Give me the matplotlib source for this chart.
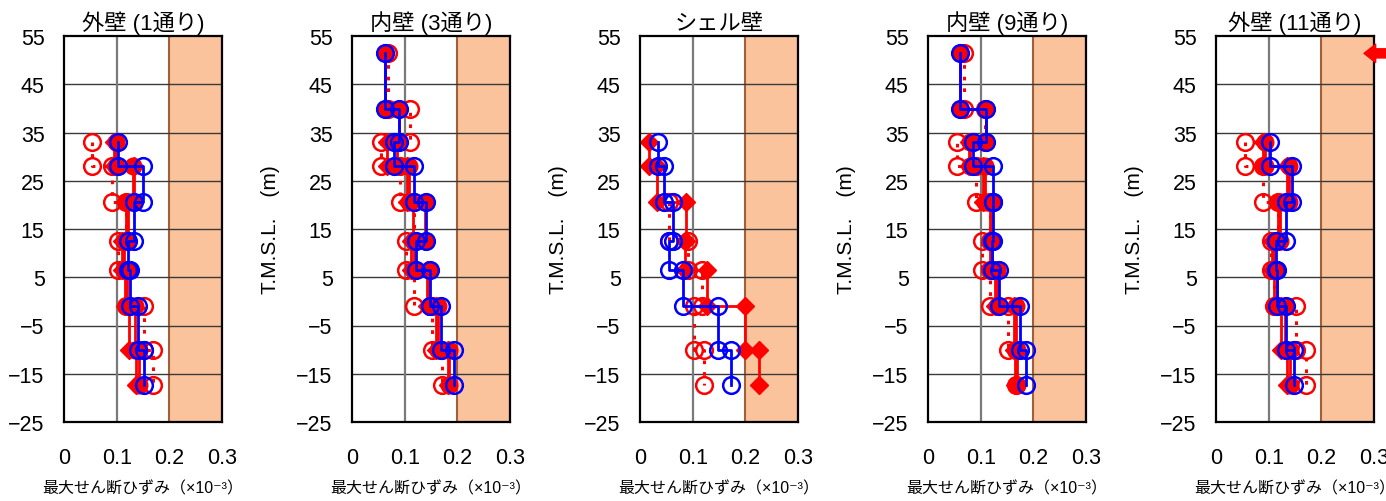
# -*- coding: utf-8 -*-
"""
最大せん断ひずみ分布図（各通り壁）
"""
import matplotlib
matplotlib.use('Agg')
import matplotlib.pyplot as plt

plt.rcParams['font.family'] = ['Liberation Sans', 'Noto Sans CJK JP', 'DejaVu Sans']

# 床レベル T.M.S.L. (m)
heights = [51.4, 39.8, 33.0, 28.0, 20.5, 12.5, 6.5, -1.0, -10.0, -17.3]

titles = ['外壁 (1通り)', '内壁 (3通り)', 'シェル壁', '内壁 (9通り)', '外壁 (11通り)']

# 各層の最大せん断ひずみ (×10^-3)  A:赤白丸点線 B:赤菱形 C:赤丸 D:青白丸
p1_a = [0.054, 0.092, 0.117, 0.102, 0.118, 0.151, 0.169]
p1_b = [0.094, 0.133, 0.118, 0.110, 0.115, 0.124, 0.137]
p1_c = [0.099, 0.131, 0.121, 0.114, 0.120, 0.134, 0.143]
p1_d = [0.102, 0.150, 0.133, 0.121, 0.126, 0.141, 0.152]

p2_a = [0.068, 0.110, 0.056, 0.092, 0.117, 0.102, 0.118, 0.151, 0.171]
p2_b = [0.066, 0.105, 0.115, 0.112, 0.143, 0.160, 0.182]
p2_c = [0.063, 0.090, 0.085, 0.108, 0.138, 0.118, 0.146, 0.164, 0.185]
p2_d = [0.063, 0.090, 0.080, 0.118, 0.140, 0.122, 0.148, 0.169, 0.194]

p3_a = [0.055, 0.091, 0.117, 0.103, 0.121]
p3_b = [0.018, 0.032, 0.088, 0.085, 0.128, 0.200, 0.225]
p3_c = []
p3_d = [0.035, 0.045, 0.063, 0.056, 0.082, 0.149, 0.172]

p4_a = [0.069, 0.108, 0.056, 0.092, 0.117, 0.102, 0.118, 0.151, 0.168]
p4_b = [0.078, 0.105, 0.118, 0.118, 0.128, 0.163, 0.165]
p4_c = [0.061, 0.110, 0.080, 0.108, 0.122, 0.121, 0.131, 0.167, 0.169]
p4_d = [0.061, 0.111, 0.086, 0.124, 0.124, 0.122, 0.134, 0.175, 0.186]

p5_a = [0.055, 0.090, 0.117, 0.104, 0.110, 0.151, 0.170]
p5_b = [0.090, 0.135, 0.118, 0.106, 0.110, 0.124, 0.135]
p5_c = [0.093, 0.138, 0.121, 0.110, 0.116, 0.131, 0.141]
p5_d = [0.102, 0.145, 0.132, 0.114, 0.116, 0.133, 0.148]

# 11通り 頂部：範囲外の値を示す矢印 (先端, 尾)
p5_arrow_x = [0.281, 0.345]
p5_arrow_h = 51.4

panels = [
    (p1_a, p1_b, p1_c, p1_d),
    (p2_a, p2_b, p2_c, p2_d),
    (p3_a, p3_b, p3_c, p3_d),
    (p4_a, p4_b, p4_c, p4_d),
    (p5_a, p5_b, p5_c, p5_d),
]

RED = '#ff0000'
BLUE = '#0000ff'


def step_xy(vals):
    """下から詰めた層の値を階段状の座標にする"""
    start = len(heights) - 1 - len(vals)
    xs, ys = [], []
    for i, v in enumerate(vals):
        xs += [v, v]
        ys += [heights[start + i], heights[start + i + 1]]
    return xs, ys


fig = plt.figure(figsize=(13.86, 5.02), dpi=100)
W, H = 1386.0, 502.0
lefts = [64, 352, 640, 928, 1216]

for k, (a, b, c, d) in enumerate(panels):
    ax = fig.add_axes([lefts[k] / W, (H - 423) / H, 158 / W, 386 / H])

    ax.axvspan(0.2, 0.3, facecolor='#fbc39b', edgecolor='#a0603a', lw=1.5, zorder=0)
    for yy in range(-15, 55, 10):
        ax.axhline(yy, color='#3a3a3a', lw=1.0, zorder=1)
    ax.axvline(0.1, color='#7a7a7a', lw=1.6, zorder=1)

    if a:
        xs, ys = step_xy(a)
        ax.plot(xs, ys, color=RED, lw=2.2, ls=(0, (1.2, 2.6)), marker='o', ms=12,
                mfc='none', mec=RED, mew=1.8, zorder=3)
    if b:
        xs, ys = step_xy(b)
        ax.plot(xs, ys, color=RED, lw=2, marker='D', ms=9, mfc=RED, mec=RED, zorder=4)
    if c:
        xs, ys = step_xy(c)
        ax.plot(xs, ys, color=RED, lw=2, marker='o', ms=12, mfc=RED, mec=RED, zorder=5)
    xs, ys = step_xy(d)
    ax.plot(xs, ys, color=BLUE, lw=2, marker='o', ms=12, mfc='none', mec=BLUE,
            mew=1.8, zorder=6)

    if k == 4:
        ax.annotate('', xy=(p5_arrow_x[0], p5_arrow_h), xytext=(p5_arrow_x[1], p5_arrow_h),
                    annotation_clip=False,
                    arrowprops=dict(arrowstyle='simple,head_length=0.7,head_width=1.1,tail_width=0.55',
                                    color=RED, mutation_scale=12, shrinkA=0, shrinkB=0),
                    zorder=9)

    ax.set_xlim(0, 0.3)
    ax.set_ylim(-25, 55)
    ax.set_xticks([0, 0.1, 0.2, 0.3])
    ax.set_xticklabels(['0', '0.1', '0.2', '0.3'])
    ax.set_yticks(range(-25, 56, 10))
    ax.tick_params(length=0, labelsize=15.5)
    ax.tick_params(axis='x', pad=18)
    ax.tick_params(axis='y', pad=14)
    for sp in ax.spines.values():
        sp.set_linewidth(1.6)
        sp.set_color('black')
        sp.set_zorder(8)

    ax.set_title(titles[k], fontsize=16, pad=5)
    ax.set_xlabel('最大せん断ひずみ（×10⁻³）', fontsize=11.5, labelpad=9)
    if k > 0:
        ax.set_ylabel('T.M.S.L.\u3000(m)', fontsize=15, labelpad=12)

plt.savefig('out.png', dpi=100)
plt.close(fig)
